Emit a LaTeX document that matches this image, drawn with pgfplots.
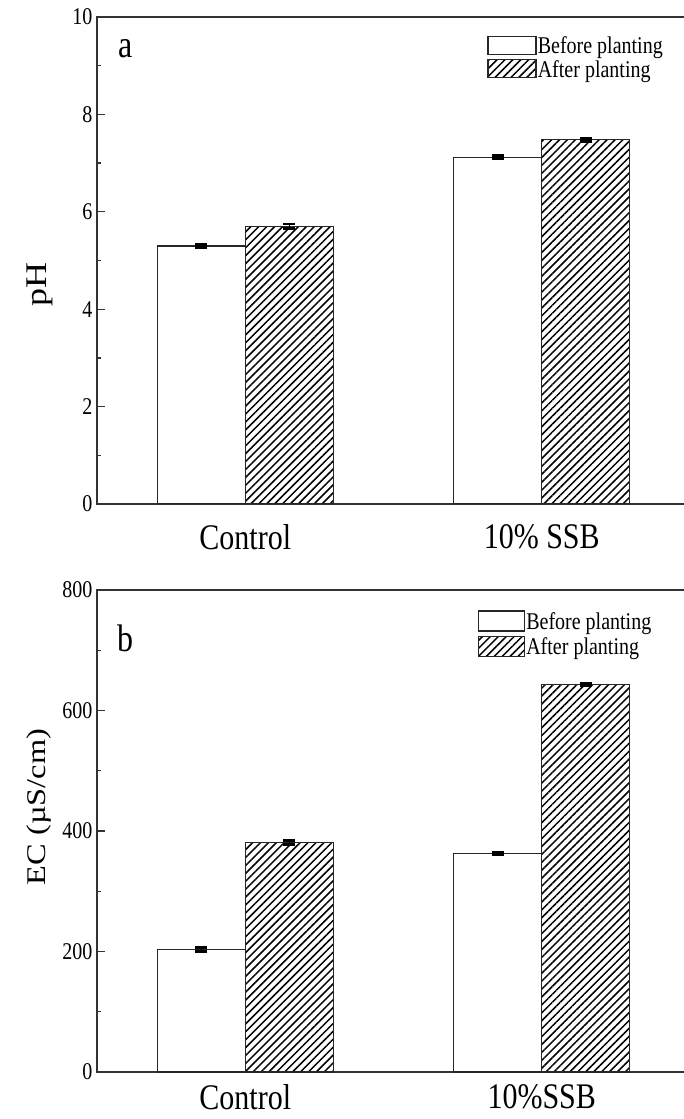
\documentclass[border=0pt]{standalone}
\usepackage{pgfplots}
\pgfplotsset{compat=1.18}
\usepackage{fontspec}
\setmainfont{Liberation Serif}
\usepackage{graphicx}
\usetikzlibrary{patterns.meta}

\newcommand{\vs}[1]{\scalebox{1}[1.2]{#1}}
\newcommand{\hs}[1]{\scalebox{1.2}[1]{#1}}

% x: bar centres (category 1 = Control, 2 = 10% SSB; bars offset by half a bar width)
\pgfplotstableread{
x y e
0.8516 5.30 0.03
1.8516 7.12 0.03
}\pHbefore
\pgfplotstableread{
x y e
1.1484 5.70 0.05
2.1484 7.48 0.03
}\pHafter
\pgfplotstableread{
x y e
0.8516 203 3
1.8516 363 2
}\ECbefore
\pgfplotstableread{
x y e
1.1484 381 3
2.1484 643 2
}\ECafter

\pgfplotsset{
  myax/.style={
    scale only axis, width=593pt, xmin=0.5, xmax=2.5, ymin=0,
    axis line style={line width=1.5pt, black!80},
    xtick={1,2}, major x tick style={draw=none},
    tick align=inside, ytick pos=left, xtick pos=bottom,
    minor y tick num=1,
    major tick length=8pt, minor tick length=4pt,
    y tick style={line width=1.3pt, black!80},
    /pgf/number format/assume math mode=true,
    yticklabel={\vs{\pgfmathprintnumber{\tick}}},
    yticklabel style={font=\fontsize{20}{22}\selectfont, xshift=-1pt},
    xticklabel style={font=\fontsize{30}{34}\selectfont, yshift=-17pt},
    legend cell align=left,
    legend style={draw=none, fill=none, inner sep=0pt, row sep=4pt,
      font=\fontsize{20}{22}\selectfont, anchor=north west,
      nodes={inner sep=1pt, text depth=0pt}},
  },
  bef/.style={ybar, bar width=88pt, bar shift=0pt, draw=black!85, fill=white, line width=1.4pt,
    error bars/.cd, y dir=both, y explicit,
    error bar style={line width=1.5pt, black},
    error mark options={rotate=90, mark size=6pt, line width=2.8pt, black}, /pgfplots/.cd},
  aft/.style={ybar, bar width=88pt, bar shift=0pt, draw=black!85, line width=1.4pt,
    pattern={Lines[angle=45, distance=5.6pt, line width=1.5pt]},
    error bars/.cd, y dir=both, y explicit,
    error bar style={line width=1.5pt, black},
    error mark options={rotate=90, mark size=6pt, line width=2.8pt, black}, /pgfplots/.cd},
}

\begin{document}
\begin{tikzpicture}[x=1pt,y=1pt]
\useasboundingbox (0,0) rectangle (683,1119);
% panel a
\begin{axis}[myax, at={(97pt,615pt)}, anchor=south west, height=487pt,
  ymax=10, ytick={0,2,...,10},
  xticklabels={\vs{Control},\vs{10\% SSB}},
  ylabel={\hs{pH}}, ylabel style={font=\fontsize{30}{32}\selectfont, at={(axis description cs:-0.097,0.45)}, anchor=center, rotate=0},
  legend style={at={(0.658,0.962)}},
  legend image code/.code={\draw[#1] (0pt,-9pt) rectangle (48pt,9pt);},
]
\addplot[forget plot, bef] table[x=x, y=y, y error=e] {\pHbefore};
\addplot[forget plot, aft] table[x=x, y=y, y error=e] {\pHafter};
\addlegendimage{draw=black!85, fill=white, line width=1.4pt}
\addlegendentry{\vs{Before planting}}
\addlegendimage{draw=black!85, line width=1.4pt, pattern={Lines[angle=45, distance=5.6pt, line width=1.5pt]}}
\addlegendentry{\vs{After planting}}
\node[font=\fontsize{32}{34}\selectfont] at (rel axis cs:0.048,0.935) {\vs{a}};
\end{axis}
% panel b
\begin{axis}[myax, at={(97pt,47pt)}, anchor=south west, height=482pt,
  ymax=800, ytick={0,200,...,800},
  xticklabels={\vs{Control},\vs{10\%SSB}},
  xticklabel style={yshift=8pt},
  ylabel={\hs{EC (µS/cm)}}, ylabel style={font=\fontsize{27}{29}\selectfont, at={(axis description cs:-0.097,0.55)}, anchor=center, rotate=0},
  legend style={at={(0.642,0.958)}},
  legend image code/.code={\draw[#1] (0pt,-10pt) rectangle (46pt,10pt);},
]
\addplot[forget plot, bef] table[x=x, y=y, y error=e] {\ECbefore};
\addplot[forget plot, aft] table[x=x, y=y, y error=e] {\ECafter};
\addlegendimage{draw=black!85, fill=white, line width=1.4pt}
\addlegendentry{\vs{Before planting}}
\addlegendimage{draw=black!85, line width=1.4pt, pattern={Lines[angle=45, distance=5.6pt, line width=1.5pt]}}
\addlegendentry{\vs{After planting}}
\node[font=\fontsize{32}{34}\selectfont] at (rel axis cs:0.048,0.90) {\vs{b}};
\end{axis}
\end{tikzpicture}
\end{document}
